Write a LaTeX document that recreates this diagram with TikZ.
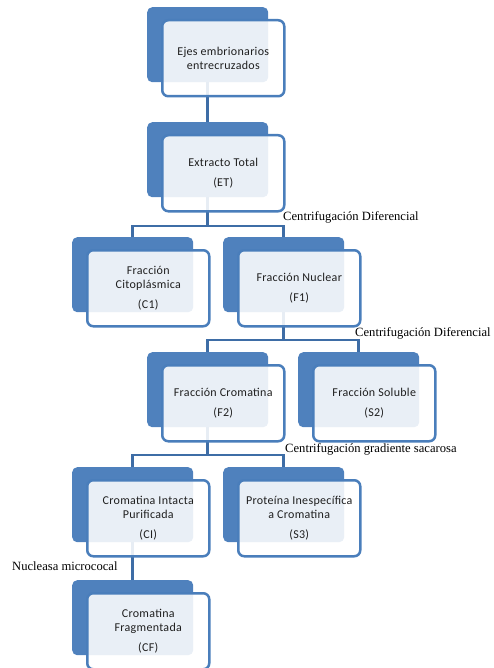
\documentclass[tikz,border=0pt]{standalone}
\usepackage{fontspec}
\setmainfont{Liberation Serif}
\newfontfamily\boxfont[LetterSpace=2.5]{Carlito}
\usetikzlibrary{calc}
\definecolor{boxblue}{HTML}{4F81BD}
\definecolor{edgeblue}{HTML}{4A7EBB}
\definecolor{lineblue}{HTML}{3E6DA6}
\tikzset{
  backbox/.style={fill=boxblue, draw=none, rounded corners=5pt, anchor=north west,
    minimum width=121pt, minimum height=75pt, inner sep=0pt},
  frontbox/.style={fill=white, fill opacity=0.88, text opacity=1, draw=edgeblue,
    line width=2.5pt, rounded corners=6pt, anchor=north west,
    minimum width=122pt, minimum height=76pt, inner sep=0pt,
    font=\boxfont\fontsize{12}{14}\selectfont, align=center, text=black!88},
  conn/.style={draw=lineblue, line width=2.5pt},
  lbl/.style={anchor=base west, inner sep=0pt, font=\fontsize{12.6}{15}\selectfont}
}
\begin{document}
\begin{tikzpicture}[x=1pt, y=-1pt]
\useasboundingbox (0,0) rectangle (493,668);
% back boxes
\node[backbox] (Eb)  at (147,7) {};
\node[backbox] (ETb) at (147,122) {};
\node[backbox] (C1b) at (72,237) {};
\node[backbox] (F1b) at (223,237) {};
\node[backbox] (F2b) at (147,352) {};
\node[backbox] (S2b) at (298,352) {};
\node[backbox] (CIb) at (72,467) {};
\node[backbox] (S3b) at (223,467) {};
\node[backbox] (CFb) at (72,580) {};
% connectors
\draw[conn] (Eb.south) -- (ETb.north);
\coordinate (bar1) at ($(C1b.north)+(0,-11)$);
\draw[conn] (ETb.south) -- (ETb.south |- bar1);
\draw[conn] (C1b.north) -- (bar1) -| (F1b.north);
\coordinate (bar2) at ($(F2b.north)+(0,-12)$);
\draw[conn] (F1b.south) -- (F1b.south |- bar2);
\draw[conn] (F2b.north) -- (bar2) -| (S2b.north);
\coordinate (bar3) at ($(CIb.north)+(0,-12)$);
\draw[conn] (F2b.south) -- (F2b.south |- bar3);
\draw[conn] (CIb.north) -- (bar3) -| (S3b.north);
\draw[conn] (CIb.south) -- (CFb.north);
% front boxes
\node[frontbox] (E)  at (161,19)  {Ejes embrionarios\\entrecruzados};
\node[frontbox] (ET) at (161,134) {Extracto Total\\[6pt](ET)};
\node[frontbox] (C1) at (86,249)  {Fracción\\Citoplásmica\\[6.5pt](C1)};
\node[frontbox] (F1) at (237,249) {Fracción Nuclear\\[6pt](F1)};
\node[frontbox] (F2) at (161,364) {Fracción Cromatina\\[6pt](F2)};
\node[frontbox] (S2) at (312,364) {Fracción Soluble\\[6pt](S2)};
\node[frontbox] (CI) at (86,479)  {Cromatina Intacta\\Purificada\\[6.5pt](CI)};
\node[frontbox] (S3) at (237,479) {Proteína Inespecífica\\a Cromatina\\[6.5pt](S3)};
\node[frontbox] (CF) at (86,592)  {Cromatina\\Fragmentada\\[6.5pt](CF)};
% labels
\node[lbl] (L1) at (283,220) {Centrifugación Diferencial};
\node[lbl] (L2) at (355,336) {Centrifugación Diferencial};
\node[lbl] (L3) at (285,452) {Centrifugación gradiente sacarosa};
\node[lbl] (L4) at (12,570)  {Nucleasa micrococal};
\end{tikzpicture}
\end{document}
